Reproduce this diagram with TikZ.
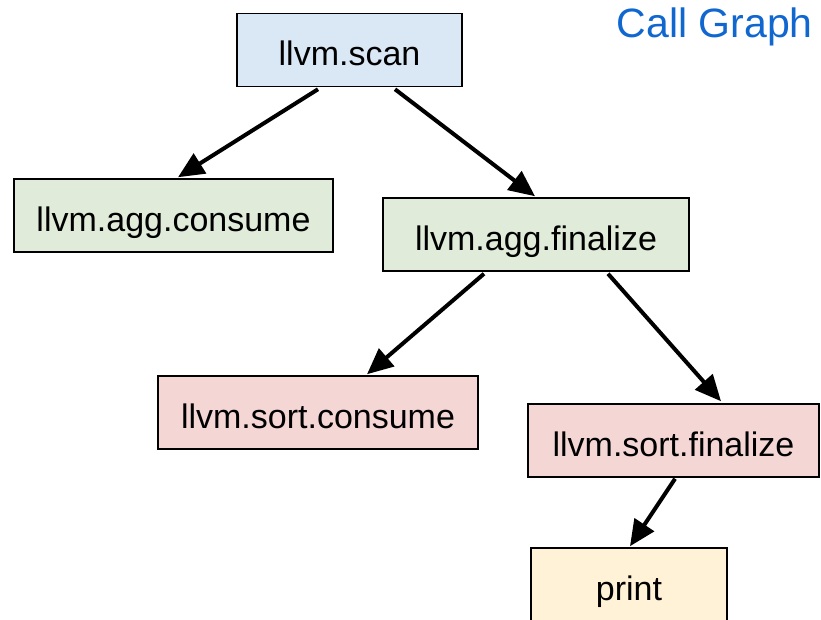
\documentclass[tikz,border=0pt]{standalone}
\usepackage{fontspec}
\setmainfont{Liberation Sans}
\usetikzlibrary{arrows.meta}
\definecolor{scanblue}{HTML}{DAE7F5}
\definecolor{agggreen}{HTML}{E0EBDA}
\definecolor{sortred}{HTML}{F4D6D5}
\definecolor{printyellow}{HTML}{FFF2D6}
\definecolor{titleblue}{HTML}{0F67CF}
\begin{document}
\begin{tikzpicture}[
            x=1pt, y=-1pt,
            every node/.style={draw, rectangle, line width=1.5pt, inner sep=0pt, minimum height=73pt,
              text height=32pt, text depth=0pt, font=\fontsize{34}{41}\selectfont},
            call/.style={-{Triangle[length=26pt, width=23pt]}, line width=4pt}, ]
            \useasboundingbox (0,0) rectangle (821,620);
            \node[draw=none, minimum height=0pt, text height=, text depth=, anchor=base west,
              text=titleblue, font=\fontsize{41}{48}\selectfont] (title) at (616,38) {Call Graph};
            \node[fill=scanblue, minimum width=225pt] (scan) at (349.5,50) {llvm.scan};
            \node[fill=agggreen, minimum width=319pt] (aggc) at (173.5,215.5) {llvm.agg.consume};
            \node[fill=agggreen, minimum width=306pt] (aggf) at (536,234.5) {llvm.agg.finalize};
            \node[fill=sortred, minimum width=320pt] (sortc) at (318,412.5) {llvm.sort.consume};
            \node[fill=sortred, minimum width=291pt] (sortf) at (673.5,440.5) {llvm.sort.finalize};
            \node[fill=printyellow, minimum width=196pt] (print) at (629,584.5) {print};
            \draw[call] ([xshift=-31.5pt, yshift=-2pt]scan.south) -- ([xshift=4.5pt, yshift=1pt]aggc.north);
            \draw[call] ([xshift=45.5pt, yshift=-2pt]scan.south) -- ([xshift=-1pt, yshift=1pt]aggf.north);
            \draw[call] ([xshift=-52pt, yshift=-2pt]aggf.south) -- ([xshift=49pt, yshift=1pt]sortc.north);
            \draw[call] ([xshift=72pt, yshift=-2pt]aggf.south) -- ([xshift=47.5pt, yshift=2pt]sortf.north);
            \draw[call] ([xshift=1.5pt, yshift=-1pt]sortf.south) -- ([xshift=1pt, yshift=1pt]print.north);
          \end{tikzpicture}
\end{document}
